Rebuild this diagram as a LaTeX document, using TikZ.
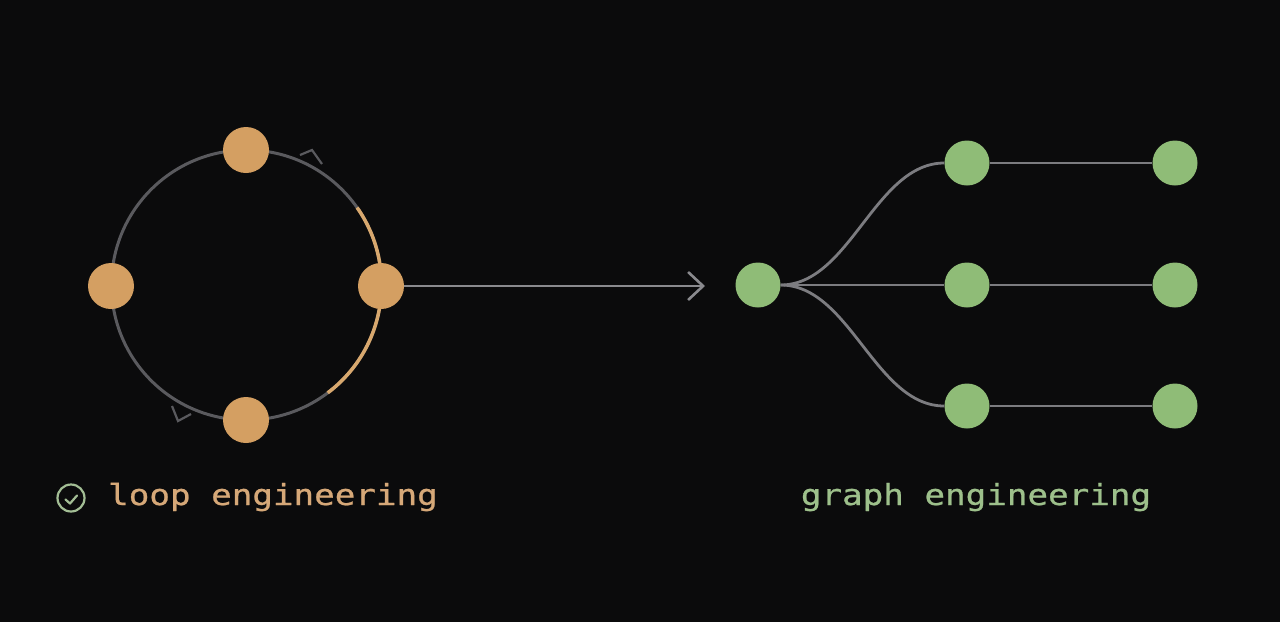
\documentclass[tikz,border=0pt]{standalone}
\usepackage{fontspec}
\newfontfamily\monofont[FakeStretch=1.18, FakeBold=0.8]{DejaVu Sans Mono}
\usetikzlibrary{arrows.meta}
\definecolor{bg}{HTML}{0B0B0C}
\definecolor{ringgray}{HTML}{5A5A5E}
\definecolor{linegray}{HTML}{7C7C80}
\definecolor{arrowgray}{HTML}{8A8A8E}
\definecolor{orangenode}{HTML}{D49F62}
\definecolor{orangearc}{HTML}{D8A86E}
\definecolor{orangetext}{HTML}{D6A878}
\definecolor{greennode}{HTML}{8FBC77}
\definecolor{greentext}{HTML}{9DC08B}
\definecolor{checkgreen}{HTML}{A3BE95}
\tikzset{
  onode/.style={circle, fill=orangenode, minimum size=46pt, inner sep=0pt},
  gnode/.style={circle, fill=greennode, minimum size=45pt, inner sep=0pt},
  ring/.style={draw=ringgray, line width=3pt},
  edge/.style={draw=linegray, line width=2.8pt},
  chev/.style={draw=ringgray, line width=2.2pt},
  label/.style={font=\monofont\fontsize{29}{34}\selectfont, inner sep=0pt}
}
\begin{document}
\begin{tikzpicture}[x=1pt,y=-1pt]
\fill[bg] (0,0) rectangle (1280,622);
\useasboundingbox (0,0) rectangle (1280,622);
% loop
\coordinate (c) at (246.5,285);
\draw[ring] (c) circle[radius=135];
\draw[draw=orangearc, line width=3.5pt] (c) ++(-35:135) arc[start angle=-35, end angle=53, radius=135];
\draw[chev] (300,155) -- (312,150) -- (322,164);
\draw[chev] (172,406) -- (178,421) -- (191,414);
\node[onode] (lt) at (246,150) {};
\node[onode] (lb) at (246,420) {};
\node[onode] (ll) at (111,286) {};
\node[onode] (lr) at (381,286) {};
% arrow
\coordinate (tip) at (705,286);
\draw[draw=arrowgray, line width=2.6pt, -{Straight Barb[length=15pt, width=28pt]}] (lr.east) -- (tip);
% graph
\node[gnode] (g0) at (758,285) {};
\node[gnode] (m1) at (967,163) {};
\node[gnode] (m2) at (967,285) {};
\node[gnode] (m3) at (967,406) {};
\node[gnode] (r1) at (1175,163) {};
\node[gnode] (r2) at (1175,285) {};
\node[gnode] (r3) at (1175,406) {};
\draw[edge] (g0.east) .. controls (850,285) and (875,163) .. (m1.west);
\draw[edge] (g0.east) -- (m2.west);
\draw[edge] (g0.east) .. controls (850,285) and (875,406) .. (m3.west);
\draw[edge] (m1) -- (r1);
\draw[edge] (m2) -- (r2);
\draw[edge] (m3) -- (r3);
% labels
\node[draw=checkgreen, line width=2.2pt, circle, minimum size=27pt, inner sep=0pt] (chk) at (71,498) {};
\draw[draw=checkgreen, line width=2.2pt, line cap=round, line join=round] (65.5,499.5) -- (70,503.5) -- (77,495.5);
\node[label, text=orangetext, anchor=base] (lloop) at (273,505) {loop engineering};
\node[label, text=greentext, anchor=base] (lgraph) at (976,505) {graph engineering};
\end{tikzpicture}
\end{document}
